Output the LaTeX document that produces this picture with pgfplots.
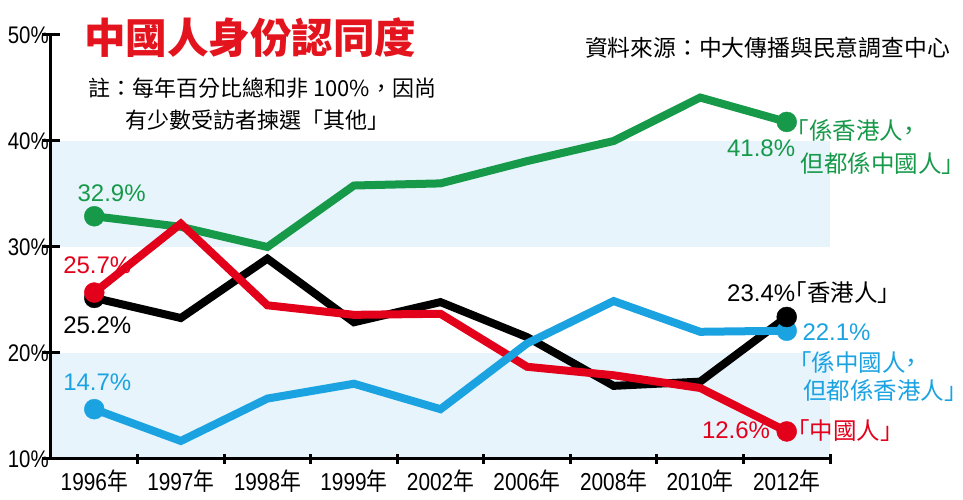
\documentclass[border=0pt]{standalone}
\usepackage{fontspec}
\usepackage{pgfplots}
\usepackage{pgfplotstable}
\pgfplotsset{compat=1.18}
\setmainfont{Liberation Sans}
\newfontfamily\narrow[FakeStretch=0.85]{Liberation Sans}
\newfontfamily\cjk{Noto Sans CJK TC}
\newfontfamily\cjkh[RawFeature=+halt]{Noto Sans CJK TC}
\newfontfamily\cjknarrow[FakeStretch=0.85]{Noto Sans CJK TC}
\definecolor{cgreen}{HTML}{17994A}
\definecolor{cred}{HTML}{E2001A}
\definecolor{cblue}{HTML}{1BA3E1}
\definecolor{cband}{HTML}{E7F4FC}
\definecolor{ctitle}{HTML}{E3141E}
\pgfplotstableread{
x G K R B
0 32.9 25.2 25.7 14.7
1 31.9 23.3 32.2 11.7
2 30.0 28.9 24.5 15.7
3 35.8 22.9 23.6 17.1
4 36.0 24.8 23.7 14.7
5 38.1 21.5 18.7 20.9
6 40.0 16.9 17.9 24.9
7 44.1 17.3 16.7 22.0
8 41.8 23.4 12.6 22.1
}\data
\newcommand{\lab}{\fontsize{24}{24}\selectfont}
\newcommand{\cl}{\cjkh\fontsize{23.5}{23.5}\selectfont}
\begin{document}
\begin{tikzpicture}[x=1pt,y=1pt]
\useasboundingbox (0,0) rectangle (963,500);
\node[anchor=west,inner sep=0pt,text=ctitle,font=\cjk\bfseries\fontsize{41.5}{41.5}\selectfont] at (84,462) {中國人身份認同度};
\node[anchor=west,inner sep=0pt,font=\cjk\fontsize{22}{22}\selectfont] at (88,412) {註：每年百分比總和非 100\%，因尚};
\node[anchor=west,inner sep=0pt,font=\cjk\fontsize{22}{22}\selectfont] at (125,380) {有少數受訪者揀選「其他」};
\node[anchor=east,inner sep=0pt,font=\cjk\fontsize{22.8}{22.8}\selectfont] at (950,452) {資料來源：中大傳播與民意調查中心};
\begin{axis}[
  at={(51pt,41pt)}, anchor=south west,
  scale only axis, width=779pt, height=424pt,
  xmin=-0.5, xmax=8.5, ymin=10, ymax=50,
  clip=false, axis on top,
  axis x line=bottom, axis y line=left,
  axis line style={line width=3pt,-},
  ytick={10,20,30,40,50},
  yticklabels={10\%,20\%,30\%,40\%,50\%},
  yticklabel style={font=\narrow\fontsize{24}{24}\selectfont, inner sep=0pt, anchor=east, xshift=0pt},
  y tick style={line width=3pt, black, /pgfplots/major tick length=18pt},
  xtick={0,...,8},
  xticklabels={1996{\cjknarrow 年},1997{\cjknarrow 年},1998{\cjknarrow 年},1999{\cjknarrow 年},2002{\cjknarrow 年},2006{\cjknarrow 年},2008{\cjknarrow 年},2010{\cjknarrow 年},2012{\cjknarrow 年}},
  x tick label style={font=\narrow\fontsize{24.5}{24.5}\selectfont, inner sep=0pt, anchor=north, yshift=-8pt},
  x tick style={draw=none},
  extra x ticks={0.5,1.5,2.5,3.5,4.5,5.5,6.5,7.5,8.5},
  extra x tick labels={},
  extra x tick style={x tick style={draw=black, line width=3pt, /pgfplots/major tick length=10pt}},
]
\fill[cband] (axis cs:-0.5,30) rectangle (axis cs:8.5,40);
\fill[cband] (axis cs:-0.5,10) rectangle (axis cs:8.5,20);
\addplot[cgreen, line width=8pt, no marks] table[x=x,y=G]{\data};
\addplot[black, line width=8pt, no marks] table[x=x,y=K]{\data};
\addplot[cred, line width=8pt, no marks] table[x=x,y=R]{\data};
\addplot[cblue, line width=8pt, no marks] table[x=x,y=B]{\data};
\addplot[cgreen, only marks, mark=*, mark size=10pt, skip coords between index={1}{8}] table[x=x,y=G]{\data};
\addplot[cblue, only marks, mark=*, mark size=10pt, skip coords between index={1}{8}] table[x=x,y=B]{\data};
\addplot[black, only marks, mark=*, mark size=10pt, skip coords between index={1}{8}] table[x=x,y=K]{\data};
\addplot[cred, only marks, mark=*, mark size=10pt, skip coords between index={1}{8}] table[x=x,y=R]{\data};
\node[inner sep=0pt, text=cgreen, font=\lab] at (axis cs:0.2,35.1) {32.9\%};
\node[inner sep=0pt, text=cred, font=\lab] at (axis cs:0.035,28.3) {25.7\%};
\node[inner sep=0pt, text=black, font=\lab] at (axis cs:0.035,22.6) {25.2\%};
\node[inner sep=0pt, text=cblue, font=\lab] at (axis cs:0.035,17.2) {14.7\%};
\node[anchor=east, inner sep=0pt, text=cgreen, font=\lab] at (axis cs:8.1,39.3) {41.8\%};
\node[anchor=west, inner sep=0pt, text=cgreen, font=\cl] at (axis cs:8.12,41.0) {「係香港人，};
\node[anchor=west, inner sep=0pt, text=cgreen, font=\cl] at (axis cs:8.16,37.9) {但都係中國人」};
\node[anchor=west, inner sep=0pt, text=black] at (axis cs:7.31,25.66) {{\lab 23.4\%}{\cl 「香港人」}};
\node[anchor=west, inner sep=0pt, text=cblue, font=\lab] at (axis cs:8.18,21.98) {22.1\%};
\node[anchor=west, inner sep=0pt, text=cblue, font=\cl] at (axis cs:8.15,19.15) {「係中國人，};
\node[anchor=west, inner sep=0pt, text=cblue, font=\cl] at (axis cs:8.19,16.5) {但都係香港人」};
\node[anchor=east, inner sep=0pt, text=cred, font=\lab] at (axis cs:7.81,12.7) {12.6\%};
\node[anchor=west, inner sep=0pt, text=cred, font=\cl] at (axis cs:8.13,12.7) {「中國人」};
\end{axis}
\end{tikzpicture}
\end{document}
